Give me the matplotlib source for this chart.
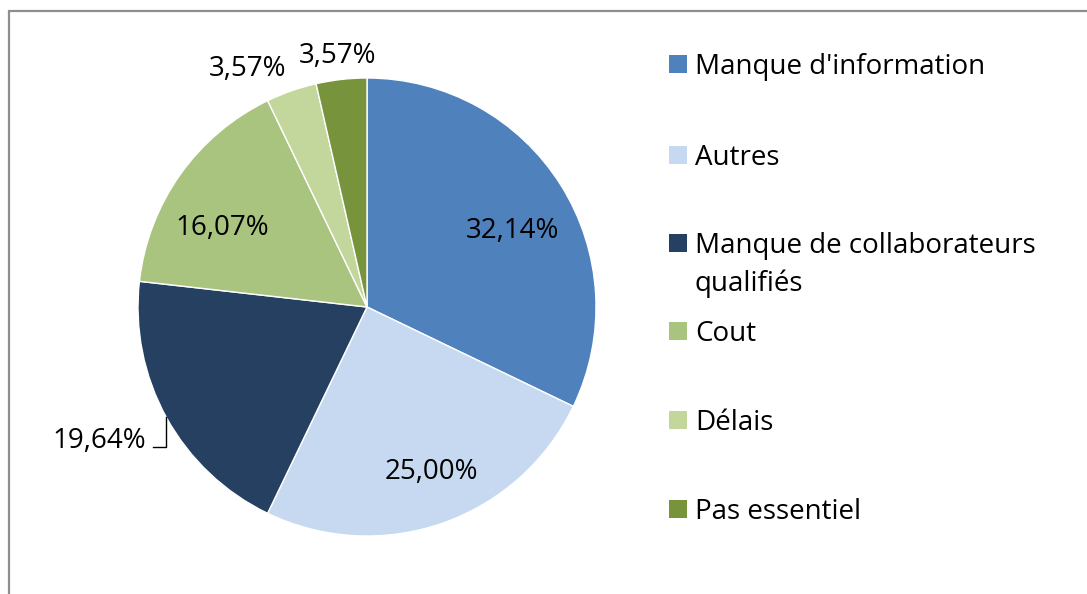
import matplotlib
matplotlib.use("Agg")
import matplotlib.pyplot as plt
from matplotlib.patches import Rectangle
from matplotlib.lines import Line2D

categories = ["Manque d'information", "Autres", "Manque de collaborateurs\nqualifiés",
              "Cout", "Délais", "Pas essentiel"]
values = [32.14, 25.00, 19.64, 16.07, 3.57, 3.57]
colors = ["#4F81BD", "#C6D9F1", "#254061", "#A9C47F", "#C3D69B", "#77933C"]

# label centres, in pie-radius units
label_pos = [(0.636, 0.333), (0.28, -0.722), (-1.17, -0.587), (-0.633, 0.343),
             (-0.52, 1.038), (-0.13, 1.098)]

W, H = 1087, 594
fig = plt.figure(figsize=(W / 100, H / 100), dpi=100)
plt.rcParams['font.family'] = ['Open Sans', 'DejaVu Sans']
FS = 20

# outer frame (top and left edges visible)
fig.patches.append(Rectangle((9 / W, -0.1), 1.2, (594 - 11) / H + 0.1,
                             transform=fig.transFigure, fill=False,
                             edgecolor="#8e8e8e", lw=1.6, figure=fig))

cx, cy, r = 367, 307, 229
ax = fig.add_axes([(cx - r) / W, (H - cy - r) / H, 2 * r / W, 2 * r / H])
ax.pie(values, colors=colors, startangle=90, counterclock=False, radius=1.0,
       wedgeprops=dict(edgecolor="white", linewidth=1.0))
ax.set_xlim(-1, 1)
ax.set_ylim(-1, 1)
ax.set_aspect("equal")
ax.axis("off")

for v, (x, y) in zip(values, label_pos):
    txt = f"{v:.2f}%".replace(".", ",")
    ax.text(x, y, txt, ha="center", va="center", fontsize=FS, color="black",
            clip_on=False)

# leader line for the outside label
ax.add_line(Line2D([-0.934, -0.878, -0.878], [-0.611, -0.611, -0.48],
                   color="black", lw=1.0, clip_on=False))

# legend
leg_y = [64, 155, 243, 331, 420, 509]
for c, lab, y in zip(colors, categories, leg_y):
    fig.patches.append(Rectangle((669 / W, (H - y - 9) / H), 18 / W, 18 / H,
                                 transform=fig.transFigure, facecolor=c,
                                 edgecolor="none", figure=fig))
    for i, ln in enumerate(lab.split("\n")):
        fig.text(695 / W, (H - y - 3 - 38 * i) / H, ln, ha="left", va="center",
                 fontsize=FS)

fig.savefig("out.png", dpi=100, facecolor="white")
